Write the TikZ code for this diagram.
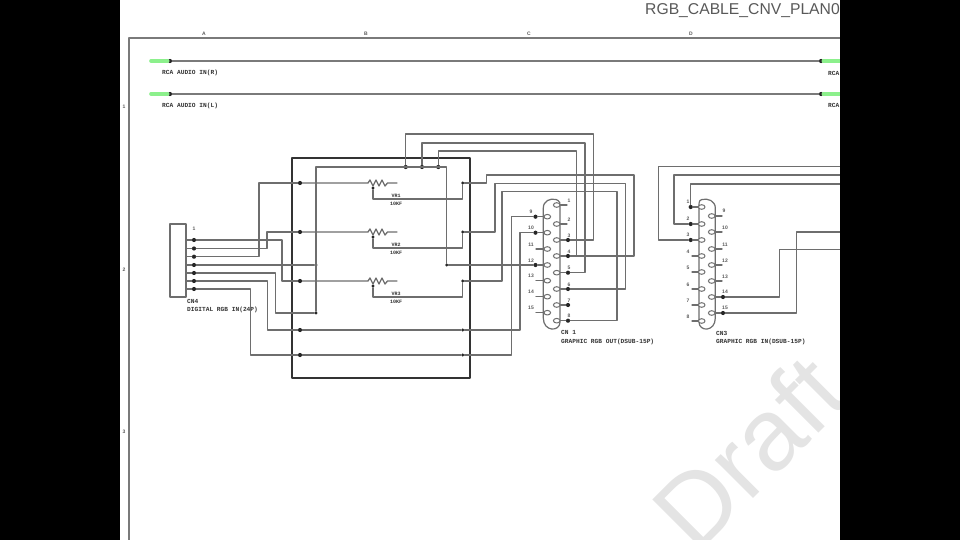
\documentclass[tikz,border=0pt]{standalone}
\usepackage{xcolor}
\usepackage{fontspec}
\setmainfont{Liberation Sans}
\newfontfamily\schfont{Liberation Mono}
\usetikzlibrary{positioning,calc,shapes.geometric}

\definecolor{wirecol}{HTML}{6E6E6E}
\definecolor{framecol}{HTML}{7A7A7A}
\definecolor{pluggreen}{HTML}{8CF08C}
\definecolor{marktext}{HTML}{E4E4E4}

\begin{document}
\begin{tikzpicture}[
    x=1pt, y=-1pt,
    wire/.style      = {draw=wirecol, line width=1.3pt},
    audio/.style     = {draw=framecol, line width=1.6pt},
    plug/.style      = {draw=pluggreen, line width=3.6pt},
    joint/.style     = {circle, fill=black!85, inner sep=0pt, minimum size=4.2pt},
    smalljoint/.style = {joint, minimum size=3.2pt},
    pinhole/.style   = {ellipse, draw=wirecol, line width=1pt, fill=white, inner sep=0pt, minimum width=6.6pt, minimum height=4.6pt},
    shell/.style     = {draw=wirecol, line width=1.2pt},
    tinytext/.style  = {font=\schfont\fontsize{6.2}{6.2}\selectfont\bfseries, text=black!80, inner sep=0pt, anchor=west},
    vrtext/.style    = {font=\schfont\fontsize{5}{5}\selectfont\bfseries, text=black!80, inner sep=0pt},
    pintext/.style   = {font=\fontsize{5}{5}\selectfont\bfseries, text=black!65, inner sep=0pt},
    line cap=round, line join=round
]
\useasboundingbox (0,0) rectangle (960,540);
\fill[white] (0,0) rectangle (960,540);

% Watermark
\node[font=\fontsize{102}{102}\selectfont, text=marktext, rotate=45, anchor=base west, inner sep=0pt] (draftmark) at (696,556) {Draft};

% Title and sheet frame
\node[font=\fontsize{15.7}{16}\selectfont, text=black!65, anchor=west, inner sep=0pt] (sheettitle) at (645,10.5) {RGB\_CABLE\_CNV\_PLAN0};
\draw[draw=framecol, line width=1.5pt] (129,545) -- (129,38) -- (845,38);
\node[pintext] (topA) at (204,34) {A};
\node[pintext] (topB) at (366,34) {B};
\node[pintext] (topC) at (529,34) {C};
\node[pintext] (topD) at (691,34) {D};
\node[pintext] (sideA) at (124,107) {1};
\node[pintext] (sideB) at (124,270) {2};
\node[pintext] (sideC) at (124,432) {3};

% Audio lines
\node[joint] (audioRa) at (170,61) {};
\node[joint] (audioRb) at (821,61) {};
\node[joint] (audioLa) at (170,94) {};
\node[joint] (audioLb) at (821,94) {};
\coordinate (plugRa) at (151,61);
\coordinate (plugRb) at (845,61);
\coordinate (plugLa) at (151,94);
\coordinate (plugLb) at (845,94);
\draw[plug] (plugRa) -- (audioRa);
\draw[plug] (plugLa) -- (audioLa);
\draw[plug] (audioRb) -- (plugRb);
\draw[plug] (audioLb) -- (plugLb);
\draw[audio] (audioRa) -- (audioRb);
\draw[audio] (audioLa) -- (audioLb);
\node[tinytext] (audioRtxt) at (162,73) {RCA AUDIO IN(R)};
\node[tinytext] (audioLtxt) at (162,105.5) {RCA AUDIO IN(L)};
\node[tinytext] (audioRend) at (828,73) {RCA};
\node[tinytext] (audioLend) at (828,105.5) {RCA};

% Connector CN4
\node[draw=wirecol, line width=1.3pt, minimum width=16pt, minimum height=73pt, inner sep=0pt] (cnfour) at (178,260.5) {};
\node[joint] (inA) at (194,240) {};
\node[joint] (inB) at (194,248.5) {};
\node[joint] (inC) at (194,256.7) {};
\node[joint] (inD) at (194,265) {};
\node[joint] (inE) at (194,273) {};
\node[joint] (inF) at (194,281) {};
\node[joint] (inG) at (194,289) {};
\draw[wire] (cnfour.east |- inA) -- (inA);
\draw[wire] (cnfour.east |- inB) -- (inB);
\draw[wire] (cnfour.east |- inC) -- (inC);
\draw[wire] (cnfour.east |- inD) -- (inD);
\draw[wire] (cnfour.east |- inE) -- (inE);
\draw[wire] (cnfour.east |- inF) -- (inF);
\draw[wire] (cnfour.east |- inG) -- (inG);
\node[pintext] (inonetxt) at (194,229) {1};
\node[tinytext] (cnfourname) at (187,301.5) {CN4};
\node[tinytext] (cnfourtxt) at (187,310) {DIGITAL RGB IN(24P)};

% Board outline
\node[draw=black!80, line width=2pt, minimum width=178.5pt, minimum height=219pt, inner sep=0pt] (board) at (381,268) {};

% Joints inside the board
\node[joint] (ltA) at (300,183) {};
\node[joint] (ltB) at (300,232) {};
\node[joint] (ltC) at (300,281) {};
\node[joint] (ltD) at (300,330) {};
\node[joint] (ltE) at (300,355) {};
\node[smalljoint] (gndA) at (316,265) {};
\node[smalljoint] (gndB) at (316,313) {};
\node[smalljoint] (gndC) at (446.7,265) {};
\node[joint] (gndD) at (405.7,167) {};
\node[joint] (gndE) at (422,167) {};
\node[joint] (gndF) at (438.3,167) {};
\node[smalljoint] (rtA) at (462.7,183) {};
\node[smalljoint] (rtB) at (462.7,232) {};
\node[smalljoint] (rtC) at (462.7,281) {};
\node[smalljoint] (rtD) at (462.7,330) {};
\node[smalljoint] (rtE) at (462.7,355) {};

% Trimmers
\node[smalljoint] (wipeA) at (373,188) {};
\node[smalljoint] (wipeB) at (373,237) {};
\node[smalljoint] (wipeC) at (373,286) {};
\coordinate (endA) at (397,183);
\coordinate (endB) at (397,232);
\coordinate (endC) at (397,281);
\draw[wire] (ltA) -- (368,183) -- (370,180) -- (373,186) -- (376,180) -- (379,186) -- (382,180) -- (385,186) -- (387.5,183) -- (endA);
\draw[wire] (ltB) -- (368,232) -- (370,229) -- (373,235) -- (376,229) -- (379,235) -- (382,229) -- (385,235) -- (387.5,232) -- (endB);
\draw[wire] (ltC) -- (368,281) -- (370,278) -- (373,284) -- (376,278) -- (379,284) -- (382,278) -- (385,284) -- (387.5,281) -- (endC);
\draw[wire] (wipeA) -- (373,199) -- (462.7,199) -- (rtA);
\draw[wire] (wipeB) -- (373,248) -- (462.7,248) -- (rtB);
\draw[wire] (wipeC) -- (373,297) -- (462.7,297) -- (rtC);
\node[vrtext] (vrAname) at (396,196) {VR1};
\node[vrtext] (vrAval) at (396,204) {10KF};
\node[vrtext] (vrBname) at (396,245) {VR2};
\node[vrtext] (vrBval) at (396,253) {10KF};
\node[vrtext] (vrCname) at (396,294) {VR3};
\node[vrtext] (vrCval) at (396,302) {10KF};

% Connector CN1
\draw[shell] (543.3,208) .. controls (543.3,201) and (550,198) .. (556,199.5) -- (558,200.5) .. controls (560,201.5) and (560,203) .. (560,206) -- (560,322) .. controls (560,332) and (543.3,332) .. (543.3,318) -- cycle;
\node[pinhole] (oneL) at (547.3,216.7) {};
\node[pinhole] (oneM) at (547.3,232.7) {};
\node[pinhole] (oneN) at (547.3,249) {};
\node[pinhole] (oneO) at (547.3,265) {};
\node[pinhole] (oneP) at (547.3,280.7) {};
\node[pinhole] (oneQ) at (547.3,296.7) {};
\node[pinhole] (oneR) at (547.3,312.7) {};
\node[pinhole] (oneA) at (556.7,205) {};
\node[pinhole] (oneB) at (556.7,224) {};
\node[pinhole] (oneC) at (556.7,240) {};
\node[pinhole] (oneD) at (556.7,256) {};
\node[pinhole] (oneE) at (556.7,272.7) {};
\node[pinhole] (oneF) at (556.7,289) {};
\node[pinhole] (oneG) at (556.7,305) {};
\node[pinhole] (oneH) at (556.7,320.7) {};
\node[joint] (pinL) at (535.5,216.7) {};
\node[joint] (pinM) at (535.5,232.7) {};
\node[joint] (pinO) at (535.5,265) {};
\node[joint] (pinC) at (568,240) {};
\node[joint] (pinD) at (568,256) {};
\node[joint] (pinE) at (568,272.7) {};
\node[joint] (pinF) at (568,289) {};
\node[joint] (pinG) at (568,305) {};
\node[joint] (pinH) at (568,320.7) {};
\coordinate (pinN) at (536,249);
\coordinate (pinP) at (536,280.7);
\coordinate (pinQ) at (536,296.7);
\coordinate (pinR) at (536,312.7);
\coordinate (pinA) at (567,205);
\coordinate (pinB) at (567,224);
\draw[wire] (oneL) -- (pinL);
\draw[wire] (oneM) -- (pinM);
\draw[wire] (oneN) -- (pinN);
\draw[wire] (oneO) -- (pinO);
\draw[wire] (oneP) -- (pinP);
\draw[wire] (oneQ) -- (pinQ);
\draw[wire] (oneR) -- (pinR);
\draw[wire] (oneA) -- (pinA);
\draw[wire] (oneB) -- (pinB);
\draw[wire] (oneC) -- (pinC);
\draw[wire] (oneD) -- (pinD);
\draw[wire] (oneE) -- (pinE);
\draw[wire] (oneF) -- (pinF);
\draw[wire] (oneG) -- (pinG);
\draw[wire] (oneH) -- (pinH);
\node[pintext] (numL) at (531,212) {9};
\node[pintext] (numM) at (531,228) {10};
\node[pintext] (numN) at (531,244.5) {11};
\node[pintext] (numO) at (531,260.5) {12};
\node[pintext] (numP) at (531,276) {13};
\node[pintext] (numQ) at (531,292) {14};
\node[pintext] (numR) at (531,308) {15};
\node[pintext] (numA) at (569,200.5) {1};
\node[pintext] (numB) at (569,219.5) {2};
\node[pintext] (numC) at (569,235.5) {3};
\node[pintext] (numD) at (569,251.5) {4};
\node[pintext] (numE) at (569,268) {5};
\node[pintext] (numF) at (569,284.5) {6};
\node[pintext] (numG) at (569,300.5) {7};
\node[pintext] (numH) at (569,316) {8};
\node[tinytext] (cnonename) at (561,332.5) {CN 1};
\node[tinytext] (cnonetxt) at (561,342) {GRAPHIC RGB OUT(DSUB-15P)};

% Connector CN3
\draw[shell] (715.3,208) .. controls (715.3,201) and (708,198) .. (702,199.5) -- (700,200.5) .. controls (699,201.5) and (699,203) .. (699,206) -- (699,322) .. controls (699,332) and (715.3,332) .. (715.3,318) -- cycle;
\node[pinhole] (twoA) at (701.7,207) {};
\node[pinhole] (twoB) at (701.7,224) {};
\node[pinhole] (twoC) at (701.7,240) {};
\node[pinhole] (twoD) at (701.7,256) {};
\node[pinhole] (twoE) at (701.7,272) {};
\node[pinhole] (twoF) at (701.7,289) {};
\node[pinhole] (twoG) at (701.7,305) {};
\node[pinhole] (twoH) at (701.7,321) {};
\node[pinhole] (twoL) at (711.7,216) {};
\node[pinhole] (twoM) at (711.7,232) {};
\node[pinhole] (twoN) at (711.7,249) {};
\node[pinhole] (twoO) at (711.7,265) {};
\node[pinhole] (twoP) at (711.7,281) {};
\node[pinhole] (twoQ) at (711.7,297) {};
\node[pinhole] (twoR) at (711.7,313) {};
\node[joint] (tipA) at (690.7,207) {};
\node[joint] (tipB) at (690.7,224) {};
\node[joint] (tipC) at (690.7,240) {};
\node[joint] (tipQ) at (723,297) {};
\node[joint] (tipR) at (723,313) {};
\coordinate (tipD) at (692,256);
\coordinate (tipE) at (692,272);
\coordinate (tipF) at (692,289);
\coordinate (tipG) at (692,305);
\coordinate (tipH) at (692,321);
\coordinate (tipL) at (722,216);
\coordinate (tipM) at (722,232);
\coordinate (tipN) at (722,249);
\coordinate (tipO) at (722,265);
\coordinate (tipP) at (722,281);
\draw[wire] (twoA) -- (tipA);
\draw[wire] (twoB) -- (tipB);
\draw[wire] (twoC) -- (tipC);
\draw[wire] (twoD) -- (tipD);
\draw[wire] (twoE) -- (tipE);
\draw[wire] (twoF) -- (tipF);
\draw[wire] (twoG) -- (tipG);
\draw[wire] (twoH) -- (tipH);
\draw[wire] (twoL) -- (tipL);
\draw[wire] (twoM) -- (tipM);
\draw[wire] (twoN) -- (tipN);
\draw[wire] (twoO) -- (tipO);
\draw[wire] (twoP) -- (tipP);
\draw[wire] (twoQ) -- (tipQ);
\draw[wire] (twoR) -- (tipR);
\node[pintext] (markA) at (688,201.5) {1};
\node[pintext] (markB) at (688,218.5) {2};
\node[pintext] (markC) at (688,234.5) {3};
\node[pintext] (markD) at (688,251.5) {4};
\node[pintext] (markE) at (688,267.5) {5};
\node[pintext] (markF) at (688,284.5) {6};
\node[pintext] (markG) at (688,300.5) {7};
\node[pintext] (markH) at (688,316.5) {8};
\node[pintext] (markL) at (724,211) {9};
\node[pintext] (markM) at (725,227.5) {10};
\node[pintext] (markN) at (725,244.5) {11};
\node[pintext] (markO) at (725,260.5) {12};
\node[pintext] (markP) at (725,276.5) {13};
\node[pintext] (markQ) at (725,292) {14};
\node[pintext] (markR) at (725,308) {15};
\node[tinytext] (cnthreename) at (716,333) {CN3};
\node[tinytext] (cnthreetxt) at (716,342) {GRAPHIC RGB IN(DSUB-15P)};

% Wires from CN4 to the board
\draw[wire] (inA) -- (282,240) -- (282,281) -- (ltC);
\draw[wire] (inB) -- (267,248.5) -- (267,232) -- (ltB);
\draw[wire] (inC) -- (259,256.7) -- (259,183) -- (ltA);
\draw[wire] (inD) -- (gndA);
\draw[wire] (inE) -- (275.7,273) -- (275.7,313) -- (gndB);
\draw[wire] (inF) -- (267.7,281) -- (267.7,330) -- (ltD);
\draw[wire] (inG) -- (250.7,289) -- (250.7,355) -- (ltE);
\draw[wire] (ltD) -- (rtD);
\draw[wire] (ltE) -- (rtE);

% Ground inside the board
\draw[wire] (gndB) -- (316,167) -- (446.7,167) -- (gndC);

% Wires from the board to CN1
\draw[wire] (gndD) -- (405.7,134) -- (593.7,134) -- (593.7,240) -- (pinC);
\draw[wire] (gndE) -- (422,143) -- (585,143) -- (585,272.7) -- (pinE);
\draw[wire] (gndF) -- (438.3,151) -- (576.7,151) -- (576.7,256) -- (pinD);
\draw[wire] (gndC) -- (pinO);
\draw[wire] (rtA) -- (486.7,183) -- (486.7,175) -- (634,175) -- (634,256) -- (pinD);
\draw[wire] (rtB) -- (495,232) -- (495,183.3) -- (625.7,183.3) -- (625.7,289) -- (pinF);
\draw[wire] (rtC) -- (502,281) -- (502,191.7) -- (617,191.7) -- (617,320.7) -- (pinH);
\draw[wire] (rtD) -- (520,330) -- (520,232.7) -- (pinM);
\draw[wire] (rtE) -- (511.7,355) -- (511.7,216.7) -- (pinL);

% Wires leaving CN3 to the right
\coordinate (exitA) at (845,166.7);
\coordinate (exitB) at (845,175);
\coordinate (exitC) at (845,184);
\coordinate (exitD) at (845,249.3);
\coordinate (exitE) at (845,232);
\draw[wire] (tipC) -- (658.3,240) -- (658.3,166.7) -- (exitA);
\draw[wire] (tipB) -- (674,224) -- (674,175) -- (exitB);
\draw[wire] (tipA) -- (690.7,184) -- (exitC);
\draw[wire] (tipQ) -- (779.3,297) -- (779.3,249.3) -- (exitD);
\draw[wire] (tipR) -- (796.7,313) -- (796.7,232) -- (exitE);

% Side bars
\fill[black] (0,0) rectangle (120,540);
\fill[black] (840,0) rectangle (960,540);

\end{tikzpicture}
\end{document}
